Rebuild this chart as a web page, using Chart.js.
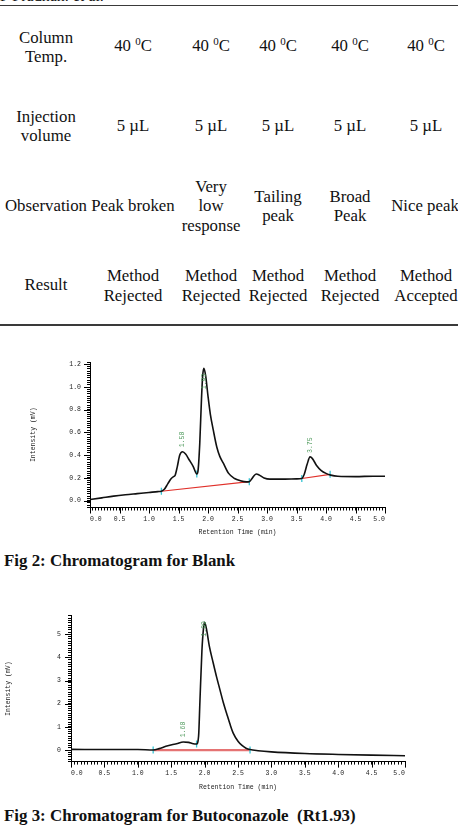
<!DOCTYPE html>
<html><head><meta charset="utf-8">
<script src="https://cdn.jsdelivr.net/npm/chart.js@4.4.1/dist/chart.umd.min.js"></script>
<style>
html,body{margin:0;padding:0;background:#fff;}
body{width:458px;height:834px;position:relative;overflow:hidden;font-family:"Liberation Serif","Times New Roman",serif;color:#111;}
.c{position:absolute;transform:translate(-50%,-50%);text-align:center;white-space:nowrap;font-size:16.8px;line-height:19.5px;}
.c sup{font-size:11px;vertical-align:0;position:relative;top:-6px;line-height:0;}
.rule{position:absolute;left:0;width:458px;background:#3a3a3a;}
.cap{position:absolute;left:4px;font-weight:bold;font-size:16.9px;white-space:pre;transform:translateY(-50%);color:#111;}
.hdr{position:absolute;left:0;top:-13px;font-size:16px;white-space:nowrap;}
canvas{position:absolute;left:0;}
</style></head><body>
<div class="hdr">P Pradhan. et al.</div>
<div class="rule" style="top:5px;height:1px;"></div>

<div class="c" style="left:46px;top:46.7px;">Column<br>Temp.</div>
<div class="c" style="left:133px;top:45.7px;">40 <sup>0</sup>C</div>
<div class="c" style="left:211px;top:45.7px;">40 <sup>0</sup>C</div>
<div class="c" style="left:278px;top:45.7px;">40 <sup>0</sup>C</div>
<div class="c" style="left:350px;top:45.7px;">40 <sup>0</sup>C</div>
<div class="c" style="left:426px;top:45.7px;">40 <sup>0</sup>C</div>

<div class="c" style="left:46px;top:125.5px;">Injection<br>volume</div>
<div class="c" style="left:133px;top:126px;">5 &micro;L</div>
<div class="c" style="left:211px;top:126px;">5 &micro;L</div>
<div class="c" style="left:278px;top:126px;">5 &micro;L</div>
<div class="c" style="left:350px;top:126px;">5 &micro;L</div>
<div class="c" style="left:426px;top:126px;">5 &micro;L</div>

<div class="c" style="left:46px;top:205.7px;">Observation</div>
<div class="c" style="left:133px;top:205.7px;">Peak broken</div>
<div class="c" style="left:211px;top:205.7px;">Very<br>low<br>response</div>
<div class="c" style="left:278px;top:205.7px;">Tailing<br>peak</div>
<div class="c" style="left:350px;top:205.7px;">Broad<br>Peak</div>
<div class="c" style="left:425px;top:205.7px;">Nice peak</div>

<div class="c" style="left:46px;top:285px;">Result</div>
<div class="c" style="left:133px;top:285px;">Method<br>Rejected</div>
<div class="c" style="left:211px;top:285px;">Method<br>Rejected</div>
<div class="c" style="left:278px;top:285px;">Method<br>Rejected</div>
<div class="c" style="left:350px;top:285px;">Method<br>Rejected</div>
<div class="c" style="left:426px;top:285px;">Method<br>Accepted</div>
<div class="rule" style="top:324px;height:1.5px;"></div>

<canvas id="c1" width="458" height="210" style="top:340px;"></canvas>
<div class="cap" style="top:560.7px;">Fig 2: Chromatogram for Blank</div>
<canvas id="c2" width="458" height="210" style="top:590px;"></canvas>
<div class="cap" style="top:816px;">Fig 3: Chromatogram for Butoconazole  (Rt1.93)</div>

<script>
// ---- Fig 2: Blank ----
const blankTime = [0.00,0.20,0.40,0.60,0.80,1.00,1.15,1.21,1.26,1.32,1.37,1.41,1.44,1.48,1.52,1.57,1.62,1.68,1.75,1.81,1.83,1.86,1.89,1.91,1.93,1.96,2.00,2.04,2.09,2.15,2.20,2.26,2.35,2.45,2.55,2.65,2.70,2.74,2.78,2.82,2.87,2.95,3.05,3.11,3.30,3.50,3.59,3.63,3.68,3.73,3.77,3.84,3.92,4.00,4.08,4.20,4.50,4.80,5.00];
const blankIntensity = [0.010,0.025,0.040,0.052,0.062,0.072,0.080,0.083,0.100,0.150,0.190,0.210,0.220,0.300,0.400,0.430,0.410,0.360,0.300,0.235,0.260,0.500,0.900,1.100,1.165,1.100,0.920,0.760,0.620,0.470,0.390,0.330,0.240,0.195,0.175,0.165,0.167,0.190,0.220,0.235,0.225,0.200,0.190,0.190,0.190,0.192,0.195,0.230,0.320,0.385,0.370,0.310,0.265,0.240,0.225,0.215,0.212,0.215,0.215];
const blankBaseA_T = [1.21,2.70], blankBaseA_I = [0.083,0.167];
const blankBaseB_T = [3.59,4.07], blankBaseB_I = [0.195,0.232];
const blankMarkT = [1.21,1.81,2.70,3.59,4.07];
const blankMarkI = [0.083,0.235,0.167,0.195,0.232];
const blankPeakLabels = ['1.58','1.93','3.75'];
const blankPeakT = [1.57,1.93,3.73];
const blankPeakI = [0.47,0.98,0.42];

// ---- Fig 3: Butoconazole ----
const butoTime = [0.00,0.60,1.00,1.23,1.32,1.42,1.51,1.58,1.68,1.76,1.83,1.88,1.91,1.93,1.96,1.985,2.00,2.03,2.07,2.13,2.18,2.23,2.28,2.33,2.38,2.43,2.50,2.56,2.62,2.68,2.80,3.00,3.50,4.00,4.50,5.00];
const butoIntensity = [0.03,0.02,0.02,0.00,0.06,0.16,0.23,0.27,0.35,0.33,0.27,0.26,0.60,2.10,4.30,5.30,5.52,5.20,4.50,3.75,3.15,2.60,2.05,1.58,1.12,0.72,0.38,0.20,0.08,0.02,-0.03,-0.08,-0.15,-0.19,-0.22,-0.245];
const butoBase_T = [1.23,2.68], butoBase_I = [0.0,0.0];
const butoMarkT = [1.23,1.88,2.68];
const butoMarkI = [0.0,0.26,0.0];
const butoPeakLabels = ['1.68','1.99'];
const butoPeakT = [1.68,2.00];
const butoPeakI = [0.55,4.9];

const xTickLabels = ['0.0','0.5','1.0','1.5','2.0','2.5','3.0','3.5','4.0','4.5','5.0'];

const pts = (t, v) => t.map((x, i) => ({x: x, y: v[i]}));
const MONO = '"Liberation Mono","DejaVu Sans Mono",monospace';

function makeDecor(cfg) {
  return {
    id: 'decor',
    afterDatasetsDraw(chart) {
      const ctx = chart.ctx;
      const xs = chart.scales.x, ys = chart.scales.y;
      ctx.save();
      ctx.strokeStyle = '#000';
      ctx.lineWidth = 1;
      xs.ticks.forEach(t => {
        if (cfg.xMajor(t.value)) {
          const px = Math.round(xs.getPixelForValue(t.value)) + 0.5;
          ctx.beginPath(); ctx.moveTo(px, xs.top); ctx.lineTo(px, xs.top + 6); ctx.stroke();
        }
      });
      ys.ticks.forEach(t => {
        if (cfg.yMajor(t.value)) {
          const py = Math.round(ys.getPixelForValue(t.value)) + 0.5;
          ctx.beginPath(); ctx.moveTo(ys.right - 6, py); ctx.lineTo(ys.right, py); ctx.stroke();
        }
      });
      ctx.fillStyle = '#4e9a5c';
      ctx.font = '6.5px ' + MONO;
      ctx.textAlign = 'left';
      ctx.textBaseline = 'middle';
      cfg.labels.forEach((s, i) => {
        const px = xs.getPixelForValue(cfg.lt[i]);
        const py = ys.getPixelForValue(cfg.li[i]);
        ctx.save(); ctx.translate(px, py); ctx.rotate(-Math.PI / 2);
        ctx.fillText(s, 0, 0); ctx.restore();
      });
      ctx.restore();
    }
  };
}

function makeChart(id, cfg) {
  const xScale = {
    type: 'linear', min: 0, max: 5,
    border: {display: true, color: '#000', width: 1},
    grid: {drawOnChartArea: false, drawTicks: true, tickLength: 3, color: '#000', lineWidth: 1},
    ticks: {stepSize: 0.05, maxTicksLimit: 1000, autoSkip: false, maxRotation: 0, minRotation: 0,
      align: 'inner', padding: 4.8, color: '#222', font: {family: MONO, size: 6.5},
      callback: v => { const k = Math.round(v * 100); return k % 50 === 0 ? xTickLabels[k / 50] : ''; }},
    title: {display: true, text: 'Retention Time (min)', color: '#222', font: {family: MONO, size: 6.5},
      padding: {top: 0, bottom: cfg.xTitlePad}},
    afterFit: s => { s.height = cfg.xHeight; }
  };
  const yScale = {
    type: 'linear', min: cfg.yMin, max: cfg.yMax,
    border: {display: true, color: '#000', width: 1},
    grid: {drawOnChartArea: false, drawTicks: true, tickLength: 3, color: '#000', lineWidth: 1},
    ticks: {stepSize: cfg.yStep, maxTicksLimit: 1000, autoSkip: false, padding: cfg.yTickPad,
      color: '#222', font: {family: MONO, size: 6.5}, callback: cfg.yLabel},
    title: {display: true, text: 'Intensity (mV)', color: '#222', font: {family: MONO, size: 6.5},
      padding: {top: cfg.yTitlePad, bottom: 0}},
    afterFit: s => { s.width = cfg.yWidth; }
  };
  return new Chart(document.getElementById(id), {
    type: 'line',
    data: {datasets: cfg.datasets},
    options: {
      responsive: false, animation: false, devicePixelRatio: 1,
      layout: {padding: {top: cfg.padTop, right: cfg.padRight, left: 0, bottom: 0}},
      scales: {x: xScale, y: yScale},
      elements: {point: {radius: 0}},
      plugins: {legend: {display: false}, tooltip: {enabled: false}}
    },
    plugins: [makeDecor(cfg)]
  });
}

const mainLine = (t, v) => ({data: pts(t, v), borderColor: '#111', borderWidth: 1.6, pointRadius: 0,
  cubicInterpolationMode: 'monotone', fill: false});
const marker = (t, v) => ({data: pts(t, v), showLine: false, pointStyle: 'line', rotation: 90,
  pointRadius: 3.5, borderColor: '#35c4d4', borderWidth: 1.3, backgroundColor: '#35c4d4'});
const base = (t, v, w, c) => ({data: pts(t, v), borderColor: c, borderWidth: w, pointRadius: 0, fill: false});

makeChart('c1', {
  padTop: 22, padRight: 73, xHeight: 42.5, xTitlePad: 14.1, yWidth: 90, yTitlePad: 29.4, yTickPad: 6,
  yMin: -0.06, yMax: 1.22, yStep: 0.02,
  yLabel: v => { const k = Math.round(v * 100); return (k % 20 === 0 && k >= 0) ? (k / 100).toFixed(1) : ''; },
  xMajor: v => Math.round(v * 100) % 50 === 0,
  yMajor: v => Math.round(v * 100) % 20 === 0,
  labels: blankPeakLabels, lt: blankPeakT, li: blankPeakI,
  datasets: [
    mainLine(blankTime, blankIntensity),
    marker(blankMarkT, blankMarkI),
    base(blankBaseA_T, blankBaseA_I, 1.2, '#e0302a'),
    base(blankBaseB_T, blankBaseB_I, 1.2, '#e0302a')
  ]
});

makeChart('c2', {
  padTop: 25.8, padRight: 53, xHeight: 38.4, xTitlePad: 9.1, yWidth: 71, yTitlePad: 4.4, yTickPad: 7,
  yMin: -0.5, yMax: 5.8, yStep: 0.1,
  yLabel: v => { const k = Math.round(v * 10); return (k % 10 === 0 && k >= 0) ? String(k / 10) : ''; },
  xMajor: v => Math.round(v * 100) % 50 === 0,
  yMajor: v => Math.round(v * 10) % 10 === 0,
  labels: butoPeakLabels, lt: butoPeakT, li: butoPeakI,
  datasets: [
    mainLine(butoTime, butoIntensity),
    marker(butoMarkT, butoMarkI),
    base(butoBase_T, butoBase_I, 2.2, '#e57373')
  ]
});
</script>
</body></html>
